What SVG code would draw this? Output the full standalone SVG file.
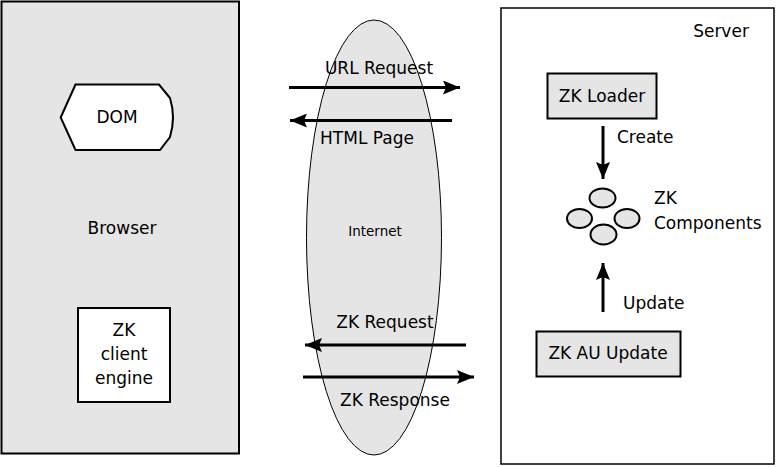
<svg xmlns="http://www.w3.org/2000/svg" width="777" height="467" viewBox="0 0 777 467">
<style>
text{font-family:"DejaVu Sans","Liberation Sans",sans-serif;font-size:17px;fill:#000}
.c{text-anchor:middle}
.box{stroke:#000;stroke-width:2}
.grey{fill:#e5e5e5}
.white{fill:#fff}
.conn{stroke:#000;stroke-width:3;fill:none}
</style>
<defs>
<marker id="ah" markerUnits="userSpaceOnUse" markerWidth="18" markerHeight="14" refX="17" refY="7" orient="auto">
<path d="M0,0 L17,7 L0,14 L3,7 Z" fill="#000"/>
</marker>
</defs>
<rect width="777" height="467" fill="#fff"/>
<g id="browser">
<rect class="box grey" x="1.5" y="1.5" width="237.5" height="452"/>
<text class="c" x="122" y="234">Browser</text>
</g>
<g id="dom">
<path class="box white" d="M60.7,117.5 L75.5,84.5 L159,84.5 L170,98 Q176,117.5 170,137 L160,150 L75.5,150 Z"/>
<text class="c" x="117" y="123">DOM</text>
</g>
<g id="zk-client-engine">
<rect class="box white" x="78" y="308" width="92" height="94"/>
<text class="c" x="124" y="336">ZK</text>
<text class="c" x="124" y="360">client</text>
<text class="c" x="124" y="384">engine</text>
</g>
<g id="internet">
<ellipse cx="374" cy="237.5" rx="67.5" ry="217.5" fill="#e5e5e5" stroke="#000" stroke-width="1"/>
<text class="c" x="375" y="236" style="font-size:13.5px">Internet</text>
</g>
<g id="server">
<rect x="501" y="8" width="273" height="456" fill="#fff" stroke="#000" stroke-width="1.5"/>
<text class="c" x="721" y="37">Server</text>
</g>
<g id="zk-loader">
<rect class="box grey" x="547.5" y="73.5" width="109" height="45"/>
<text class="c" x="602" y="102">ZK Loader</text>
</g>
<g id="zk-components">
<ellipse cx="602.5" cy="198" rx="13" ry="9.5" class="grey" stroke="#000" stroke-width="2"/>
<ellipse cx="579.5" cy="218.5" rx="12.5" ry="9.5" class="grey" stroke="#000" stroke-width="2"/>
<ellipse cx="627" cy="218.5" rx="12.5" ry="9.5" class="grey" stroke="#000" stroke-width="2"/>
<ellipse cx="603.5" cy="234.5" rx="13" ry="10" class="grey" stroke="#000" stroke-width="2"/>
<text x="654" y="204">ZK</text>
<text x="654" y="229">Components</text>
</g>
<g id="zk-au-update">
<rect class="box grey" x="536.5" y="331.5" width="144" height="45"/>
<text class="c" x="608" y="359">ZK AU Update</text>
</g>
<g id="connectors">
<line class="conn" x1="289" y1="87.5" x2="460" y2="87.5" marker-end="url(#ah)"/>
<text class="c" x="379" y="74">URL Request</text>
<line class="conn" x1="452" y1="120.5" x2="290" y2="120.5" marker-end="url(#ah)"/>
<text class="c" x="367" y="144">HTML Page</text>
<line class="conn" x1="466" y1="345" x2="305" y2="345" marker-end="url(#ah)"/>
<text class="c" x="385" y="328">ZK Request</text>
<line class="conn" x1="303" y1="377" x2="474" y2="377" marker-end="url(#ah)"/>
<text class="c" x="395" y="406">ZK Response</text>
<line class="conn" x1="603" y1="126" x2="603" y2="179" marker-end="url(#ah)"/>
<text x="617" y="143">Create</text>
<line class="conn" x1="603" y1="312" x2="603" y2="263" marker-end="url(#ah)"/>
<text x="623" y="309">Update</text>
</g>
</svg>
